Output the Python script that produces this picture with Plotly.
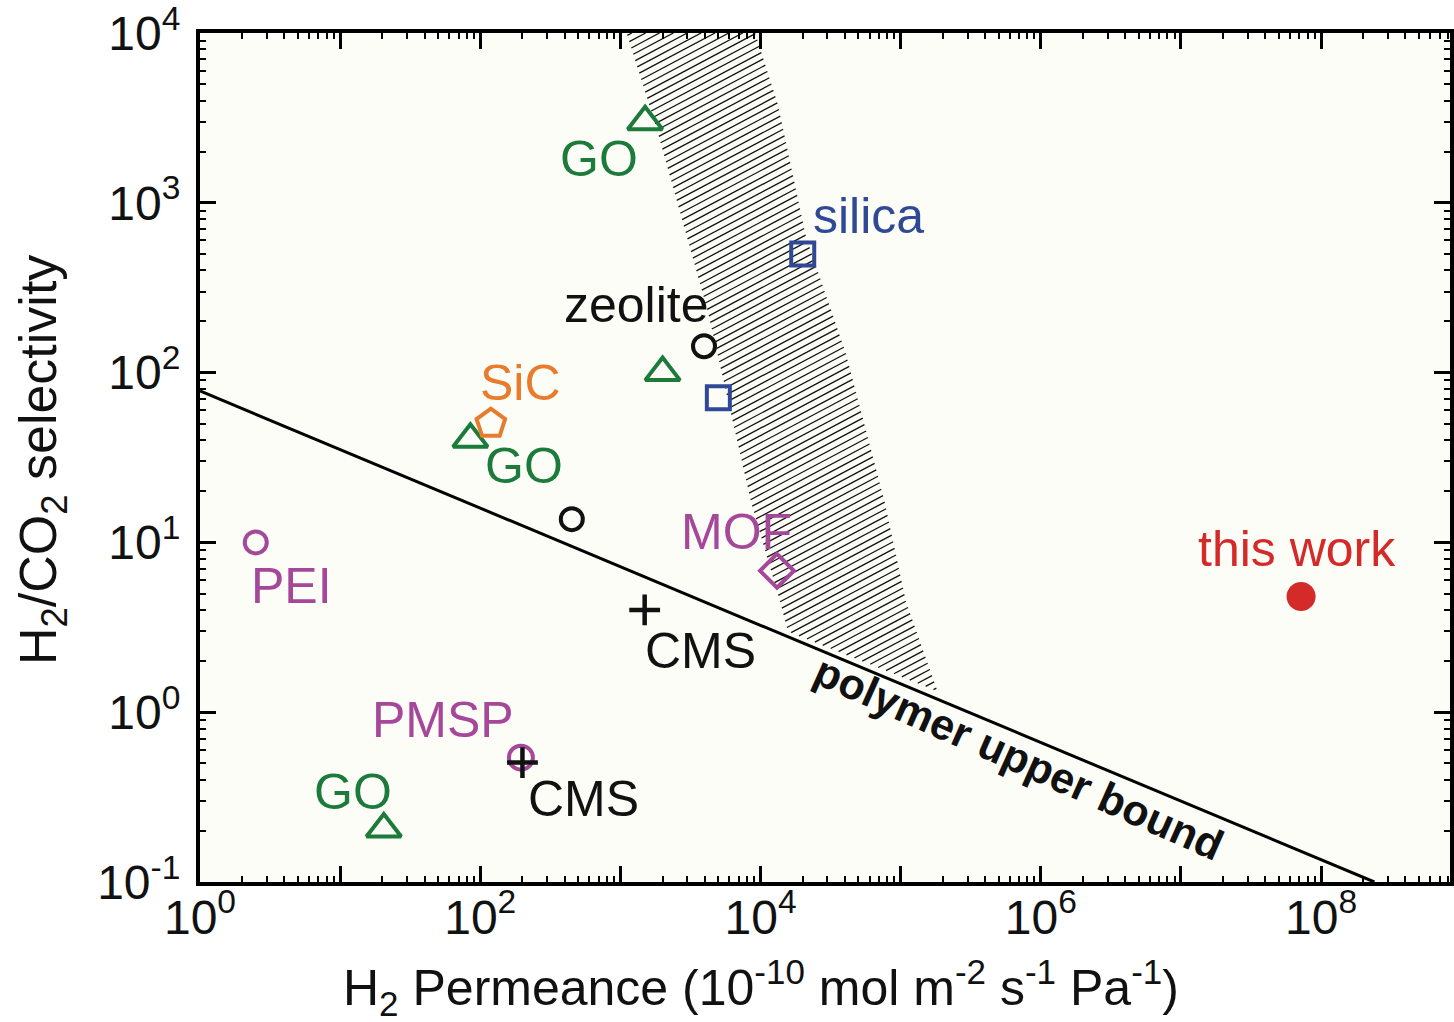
import numpy as np
import plotly.graph_objects as go

# ---------------- data ----------------
go_x = [1500, 2000, 85, 20.5]
go_y = [3000, 100, 40.5, 0.205]

silica_x = [20000, 5000]
silica_y = [500, 71]

zeolite_x = [3950, 450]
zeolite_y = [143, 13.7]

sic_x = [119]
sic_y = [50]

mof_x = [13100]
mof_y = [6.8]

pei_x = [2.5]
pei_y = [10]

pmsp_x = [195]
pmsp_y = [0.54]

cms_x = [1490, 200]
cms_y = [4.0, 0.505]

thiswork_x = [7.2e7]
thiswork_y = [4.8]

# polymer upper bound (end points)
bound_x = [1.0, 2.4e8]
bound_y = [78, 0.1]

# hatched band (left boundary top->bottom, then right boundary bottom->top)
band_x = [1107, 1780, 4240, 8570, 13780, 15700, 1.83e5, 1.09e5, 7.7e4, 4.06e4, 2.11e4, 1.33e4, 9150]
band_y = [10000, 2890, 223, 17.2, 4.48, 2.99, 1.33, 4.48, 17.2, 130, 631, 3790, 10000]

# labels: text, x, y (log10 positions), colour
labels = [
    ("GO", 2.845, 3.257, "#1c7a3a"),
    ("silica", 4.772, 2.923, "#2f4996"),
    ("zeolite", 3.115, 2.396, "#111111"),
    ("SiC", 2.290, 1.940, "#e97b2c"),
    ("GO", 2.311, 1.448, "#1c7a3a"),
    ("MOF", 3.826, 1.061, "#a64899"),
    ("PEI", 0.654, 0.745, "#a64899"),
    ("CMS", 3.570, 0.359, "#111111"),
    ("this work", 7.831, 0.962, "#d42a2a"),
    ("PMSP", 1.735, -0.045, "#a64899"),
    ("GO", 1.095, -0.467, "#1c7a3a"),
    ("CMS", 2.738, -0.514, "#111111"),
]

x_ticks = [0, 1, 2, 3, 4, 5, 6, 7, 8]
y_ticks = [-1, 0, 1, 2, 3, 4]

# ---------------- layout constants ----------------
W, H = 1454, 1022
ML, MR, MT, MB = 200, 0, 28, 140
XR = [0, 8.92]
YR = [-1, 4]
FONT = "Liberation Sans, Arial, Helvetica, sans-serif"

fig = go.Figure()

# hatching of the band
plot_w = W - ML - MR
plot_h = H - MT - MB
sx = plot_w / (XR[1] - XR[0])
sy = plot_h / (YR[1] - YR[0])
U = [np.log10(v) * sx for v in band_x]
V = [np.log10(v) * sy for v in band_y]
tan = np.tan(np.radians(28))
spacing = 7.4
cs = [v - u * tan for u, v in zip(U, V)]
hx, hy = [], []
n = len(U)
for c in np.arange(min(cs) + spacing / 2, max(cs), spacing):
    pts = []
    for i in range(n):
        u1, v1 = U[i], V[i]
        u2, v2 = U[(i + 1) % n], V[(i + 1) % n]
        f1 = v1 - u1 * tan - c
        f2 = v2 - u2 * tan - c
        if f1 * f2 < 0:
            t = f1 / (f1 - f2)
            pts.append(u1 + t * (u2 - u1))
    pts.sort()
    for j in range(0, len(pts) - 1, 2):
        for u in (pts[j], pts[j + 1]):
            hx.append(10 ** (u / sx))
            hy.append(10 ** ((u * tan + c) / sy))
        hx.append(None)
        hy.append(None)

fig.add_trace(go.Scatter(x=hx, y=hy, mode="lines", line=dict(color="#111111", width=1.3),
                         hoverinfo="skip", showlegend=False))

# polymer upper bound line
fig.add_trace(go.Scatter(x=bound_x, y=bound_y, mode="lines",
                         line=dict(color="black", width=3), showlegend=False))


def pts(x, y, symbol, color, size, lw=4):
    fig.add_trace(go.Scatter(
        x=x, y=y, mode="markers", showlegend=False,
        marker=dict(symbol=symbol, size=size, color=color,
                    line=dict(color=color, width=lw))))


pts(go_x, go_y, "triangle-up-open", "#1c7a3a", 30)
pts(silica_x, silica_y, "square-open", "#2f4996", 23)
pts(zeolite_x, zeolite_y, "circle-open", "#111111", 22)
pts(sic_x, sic_y, "pentagon-open", "#e97b2c", 30)
pts(mof_x, mof_y, "diamond-open", "#a64899", 26)
pts(pei_x, pei_y, "circle-open", "#a64899", 22)
pts(pmsp_x, pmsp_y, "circle-open", "#a64899", 24)
pts(cms_x, cms_y, "cross-thin", "#111111", 22, 4.5)
pts(thiswork_x, thiswork_y, "circle", "#d42a2a", 29, 0)

# invisible trace carrying the minor-tick y axis
fig.add_trace(go.Scatter(x=[10], y=[1], yaxis="y2", mode="markers",
                         marker=dict(opacity=0), hoverinfo="skip", showlegend=False))

for text, lx, ly, col in labels:
    fig.add_annotation(x=lx, y=ly, text=text, showarrow=False,
                       font=dict(family=FONT, size=50, color=col),
                       xanchor="center", yanchor="middle")

fig.add_annotation(x=5.846, y=-0.268, text="<b>polymer upper bound</b>", showarrow=False,
                   textangle=24, font=dict(family=FONT, size=43, color="#111111"),
                   xanchor="center", yanchor="middle")

# axis titles
fig.add_annotation(xref="paper", yref="paper", x=(763 - ML) / plot_w, y=(882 - 988) / plot_h,
                   text="H<sub>2</sub> Permeance (10<sup>-10</sup> mol m<sup>-2</sup> s<sup>-1</sup> Pa<sup>-1</sup>)",
                   showarrow=False, xanchor="center", yanchor="middle",
                   font=dict(family=FONT, size=50, color="#111111"))
fig.add_annotation(xref="paper", yref="paper", x=(42 - ML) / plot_w, y=(882 - 458) / plot_h,
                   text="H<sub>2</sub>/CO<sub>2</sub> selectivity", textangle=-90,
                   showarrow=False, xanchor="center", yanchor="middle",
                   font=dict(family=FONT, size=52, color="#111111"))

x_text = [f"10<sup>{t}</sup>" if t % 2 == 0 else "" for t in x_ticks]
y_text = [f"10<sup>{t}</sup>" for t in y_ticks]
x_minor = [k * 10 ** d for d in range(0, 9) for k in range(2, 10)]
y_minor = [k * 10.0 ** d for d in range(-1, 4) for k in range(2, 10)]

common = dict(type="log", showline=True, linecolor="black", linewidth=4,
              mirror="ticks", ticks="inside", ticklen=16, tickwidth=3, tickcolor="black",
              tickfont=dict(family=FONT, size=48, color="#111111"),
              ticklabeloverflow="allow",
              showgrid=False, zeroline=False)

fig.update_xaxes(range=XR, tickvals=[10 ** t for t in x_ticks], ticktext=x_text,
                 ticklabelstandoff=-10,
                 minor=dict(tickmode="array", tickvals=x_minor, ticks="inside", ticklen=6,
                            tickwidth=1.5, tickcolor="black", showgrid=False),
                 **common)
fig.update_yaxes(range=YR, tickvals=[10 ** t for t in y_ticks], ticktext=y_text,
                 ticklabelstandoff=6, **common)

fig.update_layout(
    yaxis2=dict(type="log", range=YR, overlaying="y", side="left", anchor="x",
                tickmode="array", tickvals=y_minor, ticks="inside", ticklen=6, tickwidth=1.5,
                tickcolor="black", showticklabels=False, showline=False, mirror="ticks",
                showgrid=False, zeroline=False),
    width=W, height=H, margin=dict(l=ML, r=MR, t=MT, b=MB, pad=0),
    plot_bgcolor="#fdfdf7", paper_bgcolor="white", showlegend=False,
    font=dict(family=FONT))

fig.write_html("out.html")
